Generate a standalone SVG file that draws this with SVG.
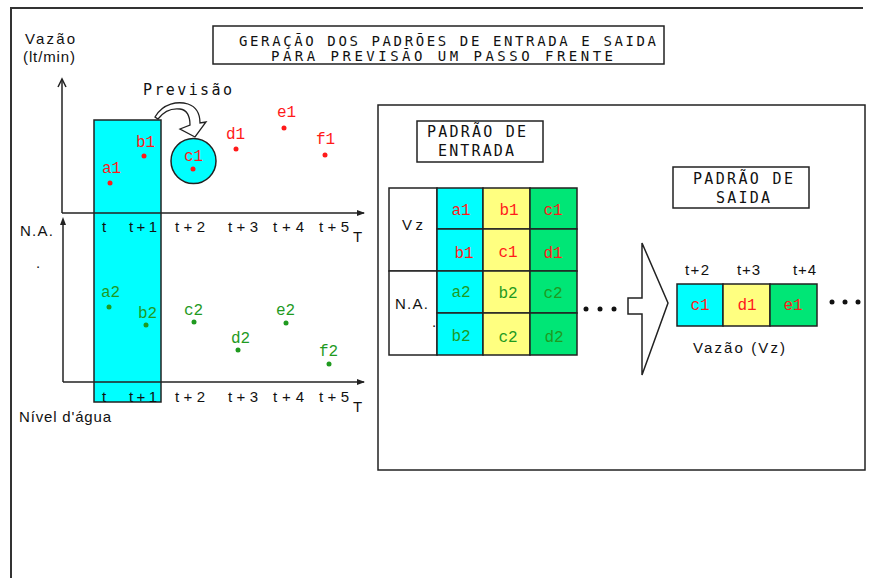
<svg xmlns="http://www.w3.org/2000/svg" width="869" height="578" viewBox="0 0 869 578">
<style>
  .frame{fill:none;stroke:#333;stroke-width:2}
  .box{fill:#fff;stroke:#222;stroke-width:1.5}
  .ln{fill:none;stroke:#222;stroke-width:1.5}
  .mono{font-family:"DejaVu Sans Mono","Liberation Mono",monospace;fill:#111}
  .sans{font-family:"Liberation Sans",Arial,sans-serif;fill:#111;font-size:15px}
  .cell{font-family:"Liberation Mono","DejaVu Sans Mono",monospace;font-size:16px;text-anchor:middle}
  .pt{font-family:"Liberation Mono","DejaVu Sans Mono",monospace;font-size:16px}
  .red{fill:#ff1a1a}
  .grn{fill:#1f9a1f}
  .cy{fill:#00ffff;stroke:#222;stroke-width:1.5}
  .ye{fill:#ffff80;stroke:#222;stroke-width:1.5}
  .gr{fill:#00e676;stroke:#222;stroke-width:1.5}
</style>
<defs>
  <marker id="ah" markerWidth="8" markerHeight="6" refX="7" refY="3" orient="auto" markerUnits="userSpaceOnUse">
    <path d="M0,0 L8,3 L0,6 Z" fill="#222"/>
  </marker>
</defs>
<rect width="869" height="578" fill="#fff"/>

<!-- page frame -->
<path class="frame" d="M11,578 L11,8 L863,8"/>

<!-- title -->
<g id="title">
  <rect class="box" x="213" y="26" width="451" height="38"/>
  <text class="mono" x="239" y="46" font-size="14" textLength="417" lengthAdjust="spacing">GERAÇÃO  DOS PADRÕES DE ENTRADA E SAIDA</text>
  <text class="mono" x="271" y="60.5" font-size="14" textLength="342" lengthAdjust="spacing">PARA PREVISÃO UM PASSO  FRENTE</text>
</g>

<!-- left plot -->
<g id="window">
  <rect class="cy" x="94" y="120" width="67" height="282"/>
</g>

<g id="axes">
  <line class="ln" x1="62" y1="79" x2="62" y2="213"/>
  <path class="ln" d="M58,87 L62,79 L66,87"/>
  <line class="ln" x1="62" y1="213" x2="364" y2="213" marker-end="url(#ah)"/>
  <line class="ln" x1="63" y1="220" x2="63" y2="382"/>
  <path d="M60,225 L63,217 L66,225 Z" fill="#222"/>
  <line class="ln" x1="63" y1="382" x2="364" y2="382" marker-end="url(#ah)"/>
</g>

<g id="axis-labels">
  <text class="sans" x="25" y="44" textLength="50" lengthAdjust="spacing">Vazão</text>
  <text class="sans" x="23" y="62" textLength="52" lengthAdjust="spacing">(lt/min)</text>
  <text class="sans" x="20" y="236" textLength="33" lengthAdjust="spacing">N.A.</text>
  <text class="sans" x="36" y="268">.</text>
  <text class="sans" x="19" y="422" textLength="92" lengthAdjust="spacing">Nível d'água</text>
</g>

<g id="ticks-top" class="sans">
  <text x="102" y="232">t</text>
  <text x="129" y="232" textLength="28" lengthAdjust="spacing">t+1</text>
  <text x="175" y="232" textLength="30" lengthAdjust="spacing">t+2</text>
  <text x="228" y="232" textLength="30" lengthAdjust="spacing">t+3</text>
  <text x="273" y="232" textLength="31" lengthAdjust="spacing">t+4</text>
  <text x="319" y="232" textLength="30" lengthAdjust="spacing">t+5</text>
  <text x="353" y="242">T</text>
</g>
<g id="ticks-bottom" class="sans">
  <text x="102" y="402">t</text>
  <text x="129" y="402" textLength="28" lengthAdjust="spacing">t+1</text>
  <text x="175" y="402" textLength="30" lengthAdjust="spacing">t+2</text>
  <text x="228" y="402" textLength="30" lengthAdjust="spacing">t+3</text>
  <text x="273" y="402" textLength="31" lengthAdjust="spacing">t+4</text>
  <text x="319" y="402" textLength="30" lengthAdjust="spacing">t+5</text>
  <text x="353" y="412">T</text>
</g>

<!-- forecast marker -->
<g id="forecast">
  <text class="mono" x="143" y="95" font-size="15" textLength="89" lengthAdjust="spacing">Previsão</text>
  <circle cx="193.5" cy="161" r="22.5" fill="#00ffff" stroke="#222" stroke-width="1.5"/>
</g>

<!-- flow series -->
<g id="flow-series" class="red">
  <circle cx="110" cy="183" r="2.5"/><text class="pt red" x="102" y="173">a1</text>
  <circle cx="144" cy="156" r="2.5"/><text class="pt red" x="136" y="147">b1</text>
  <circle cx="193" cy="169" r="2.5"/><text class="pt red" x="184" y="161">c1</text>
  <circle cx="236" cy="149" r="2.5"/><text class="pt red" x="226" y="139">d1</text>
  <circle cx="284" cy="128" r="2.5"/><text class="pt red" x="277" y="117">e1</text>
  <circle cx="325" cy="155" r="2.5"/><text class="pt red" x="316" y="144">f1</text>
</g>

<!-- level series -->
<g id="level-series" class="grn">
  <circle cx="109" cy="307" r="2.5"/><text class="pt grn" x="101" y="297">a2</text>
  <circle cx="146" cy="325" r="2.5"/><text class="pt grn" x="138" y="318">b2</text>
  <circle cx="194" cy="322" r="2.5"/><text class="pt grn" x="184" y="315">c2</text>
  <circle cx="238" cy="350" r="2.5"/><text class="pt grn" x="231" y="343">d2</text>
  <circle cx="286" cy="323" r="2.5"/><text class="pt grn" x="276" y="315">e2</text>
  <circle cx="329" cy="364" r="2.5"/><text class="pt grn" x="319" y="356">f2</text>
</g>

<!-- right panel -->
<g id="panel">
  <rect class="box" x="378" y="105" width="487" height="365"/>
</g>

<g id="input-title">
  <rect class="box" x="417" y="121" width="126" height="41"/>
  <text class="mono" x="427" y="137" font-size="15" textLength="99" lengthAdjust="spacing">PADRÃO DE</text>
  <text class="mono" x="438" y="156" font-size="15" textLength="76" lengthAdjust="spacing">ENTRADA</text>
</g>

<g id="input-table">
  <rect class="box" x="389" y="188" width="48" height="83"/>
  <rect class="box" x="389" y="271" width="48" height="84"/>
  <text class="sans" x="402" y="230" textLength="21" lengthAdjust="spacing">Vz</text>
  <text class="sans" x="395" y="309" textLength="33" lengthAdjust="spacing">N.A.</text>
  <text class="sans" x="432" y="327">.</text>

  <rect class="cy" x="437" y="188" width="46" height="41"/>
  <rect class="cy" x="437" y="229" width="46" height="42"/>
  <rect class="cy" x="437" y="271" width="46" height="42"/>
  <rect class="cy" x="437" y="313" width="46" height="42"/>
  <rect class="ye" x="483" y="188" width="47" height="41"/>
  <rect class="ye" x="483" y="229" width="47" height="42"/>
  <rect class="ye" x="483" y="271" width="47" height="42"/>
  <rect class="ye" x="483" y="313" width="47" height="42"/>
  <rect class="gr" x="530" y="188" width="47" height="41"/>
  <rect class="gr" x="530" y="229" width="47" height="42"/>
  <rect class="gr" x="530" y="271" width="47" height="42"/>
  <rect class="gr" x="530" y="313" width="47" height="42"/>

  <text class="cell red" x="461" y="215">a1</text>
  <text class="cell red" x="509" y="215">b1</text>
  <text class="cell red" x="553" y="215">c1</text>
  <text class="cell red" x="464" y="258">b1</text>
  <text class="cell red" x="508" y="257">c1</text>
  <text class="cell red" x="553" y="258">d1</text>
  <text class="cell grn" x="461" y="297">a2</text>
  <text class="cell grn" x="508" y="298">b2</text>
  <text class="cell grn" x="553" y="298">c2</text>
  <text class="cell grn" x="461" y="341">b2</text>
  <text class="cell grn" x="508" y="342">c2</text>
  <text class="cell grn" x="554" y="342">d2</text>

  <circle cx="586" cy="309" r="2.5" fill="#111"/>
  <circle cx="600" cy="309" r="2.5" fill="#111"/>
  <circle cx="614" cy="309" r="2.5" fill="#111"/>
</g>

<g id="output-title">
  <rect class="box" x="673" y="167" width="136" height="41"/>
  <text class="mono" x="693" y="184" font-size="15" textLength="100" lengthAdjust="spacing">PADRÃO DE</text>
  <text class="mono" x="716" y="203" font-size="15" textLength="54" lengthAdjust="spacing">SAIDA</text>
</g>

<g id="output-row">
  <text class="sans" x="685" y="275" textLength="24" lengthAdjust="spacing">t+2</text>
  <text class="sans" x="737" y="275" textLength="23" lengthAdjust="spacing">t+3</text>
  <text class="sans" x="793" y="275" textLength="23" lengthAdjust="spacing">t+4</text>
  <rect class="cy" x="677" y="284" width="46" height="42"/>
  <rect class="ye" x="723" y="284" width="47" height="42"/>
  <rect class="gr" x="770" y="284" width="47" height="42"/>
  <text class="cell red" x="700" y="310">c1</text>
  <text class="cell red" x="747" y="310">d1</text>
  <text class="cell red" x="793" y="310">e1</text>
  <text class="sans" x="693" y="353" textLength="92" lengthAdjust="spacing">Vazão (Vz)</text>
  <circle cx="832" cy="302" r="2.5" fill="#111"/>
  <circle cx="845" cy="302" r="2.5" fill="#111"/>
  <circle cx="858" cy="302" r="2.5" fill="#111"/>
</g>

<!-- connectors -->
<g id="connectors">
  <path d="M155,117 C163,103 178,101 188,104 C197,107 200,114 200,123 L206,122 L195,137 L180,129 L190,125 C190,116 187,110 180,109 C172,108 164,111 158,119 Z" fill="#fff" stroke="#222" stroke-width="1.3"/>
  <path d="M642,243 L668,303 L642,375 L642,314 L628,314 L628,298 L642,298 Z" fill="#fff" stroke="#222" stroke-width="1.5"/>
</g>
</svg>
